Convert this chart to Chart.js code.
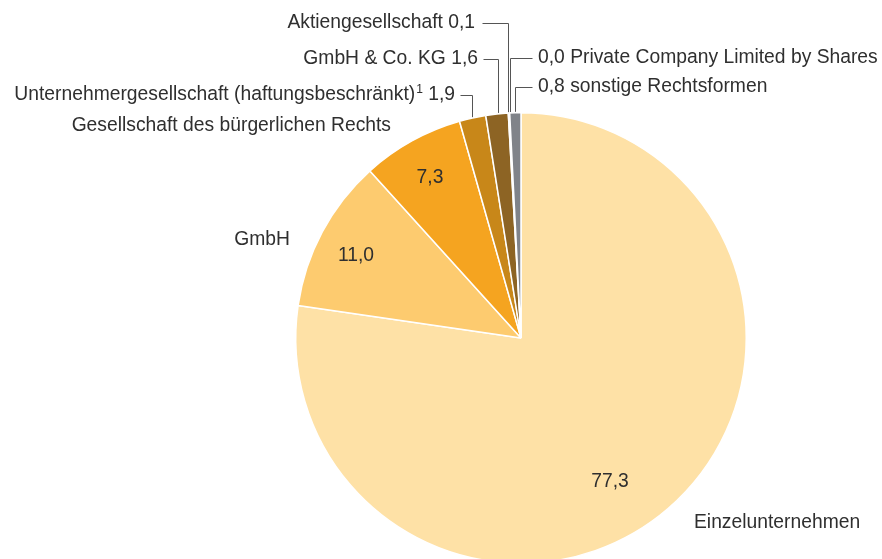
<!DOCTYPE html>
<html><head><meta charset="utf-8">
<script src="https://cdn.jsdelivr.net/npm/chart.js@4"></script>
<style>
html,body{margin:0;padding:0;background:#fff;overflow:hidden;width:882px;height:559px;}
#wrap{position:absolute;left:0;top:0;width:882px;height:600px;}
</style></head>
<body>
<div id="wrap"><canvas id="c" width="882" height="600"></canvas></div>
<script>
const categories = ["Einzelunternehmen","GmbH","Gesellschaft des bürgerlichen Rechts","Unternehmergesellschaft (haftungsbeschränkt)","GmbH & Co. KG","Aktiengesellschaft","Private Company Limited by Shares","sonstige Rechtsformen"];
const values = [77.3, 11.0, 7.3, 1.9, 1.6, 0.1, 0.0, 0.8];
const valueLabels = ["77,3","11,0","7,3","1,9","1,6","0,1","0,0","0,8"];
const colors = ["#FEE1A6","#FDCB6F","#F5A420","#C88719","#8D6424","#D9A441","#B0B0B0","#808389"];

// layout for labels (positions only)
const FONT = '19.3px "Liberation Sans", Arial, sans-serif';
const outer = [
  {i:0, kind:'plain', x:694, y:523, align:'left', text:"Einzelunternehmen"},
  {i:1, kind:'plain', x:290, y:240, align:'right', text:"GmbH"},
  {i:2, kind:'plain', x:391, y:126, align:'right', text:"Gesellschaft des bürgerlichen Rechts"},
  {i:3, kind:'leftLeader', x:455, y:95, lx0:460, lx1:472, sup:true},
  {i:4, kind:'leftLeader', x:478, y:59, lx0:483, lx1:498},
  {i:5, kind:'leftLeader', x:475, y:23, lx0:482, lx1:508, tight:true},
  {i:6, kind:'rightLeader', x:538, y:58, lx0:532, lx1:510},
  {i:7, kind:'rightLeader', x:538, y:87, lx0:532, lx1:515}
];
const inner = [
  {i:0, x:610, y:482},
  {i:1, x:356, y:256},
  {i:2, x:430, y:178}
];

const labelPlugin = {
  id:'labels',
  afterDraw(chart){
    const ctx = chart.ctx;
    const arc = chart.getDatasetMeta(0).data[0];
    const cx = arc.x, cy = arc.y, R = arc.outerRadius;
    ctx.save();
    ctx.font = FONT;
    ctx.fillStyle = '#2f2f2f';
    ctx.textBaseline = 'middle';
    ctx.strokeStyle = '#555555';
    ctx.lineWidth = 1;
    inner.forEach(l=>{
      ctx.textAlign='center';
      ctx.fillText(valueLabels[l.i], l.x, l.y);
    });
    outer.forEach(l=>{
      if(l.kind==='plain'){
        ctx.textAlign=l.align;
        ctx.fillText(l.text, l.x, l.y);
        return;
      }
      const yEdge = cy - Math.sqrt(Math.max(R*R-(l.lx1-cx)*(l.lx1-cx),0)) - 1;
      ctx.beginPath();
      ctx.moveTo(Math.round(l.lx0)+0.5, Math.round(l.y)+0.5);
      ctx.lineTo(Math.round(l.lx1)+0.5, Math.round(l.y)+0.5);
      ctx.lineTo(Math.round(l.lx1)+0.5, yEdge);
      ctx.stroke();
      if(l.kind==='leftLeader'){
        ctx.textAlign='right';
        const sep = l.tight ? ' ' : ' ';
        if(l.sup){
          const tail = ' ' + valueLabels[l.i];
          ctx.fillText(tail, l.x, l.y);
          const wTail = ctx.measureText(tail).width;
          ctx.font = '12px "Liberation Sans", Arial, sans-serif';
          ctx.fillText('1', l.x - wTail, l.y - 5);
          const wSup = ctx.measureText('1').width;
          ctx.font = FONT;
          ctx.fillText(categories[l.i], l.x - wTail - wSup - 1, l.y);
        } else {
          ctx.fillText(categories[l.i] + sep + valueLabels[l.i], l.x, l.y);
        }
      } else {
        ctx.textAlign='left';
        ctx.fillText(valueLabels[l.i] + ' ' + categories[l.i], l.x, l.y);
      }
    });
    ctx.restore();
  }
};

new Chart(document.getElementById('c'), {
  type:'pie',
  data:{labels:categories, datasets:[{data:values, backgroundColor:colors, borderColor:'#ffffff', borderWidth:1.5}]},
  options:{
    responsive:false, animation:false,
    layout:{padding:{left:295, right:135, top:112, bottom:36}},
    plugins:{legend:{display:false}, tooltip:{enabled:false}}
  },
  plugins:[labelPlugin]
});
</script>
</body></html>
